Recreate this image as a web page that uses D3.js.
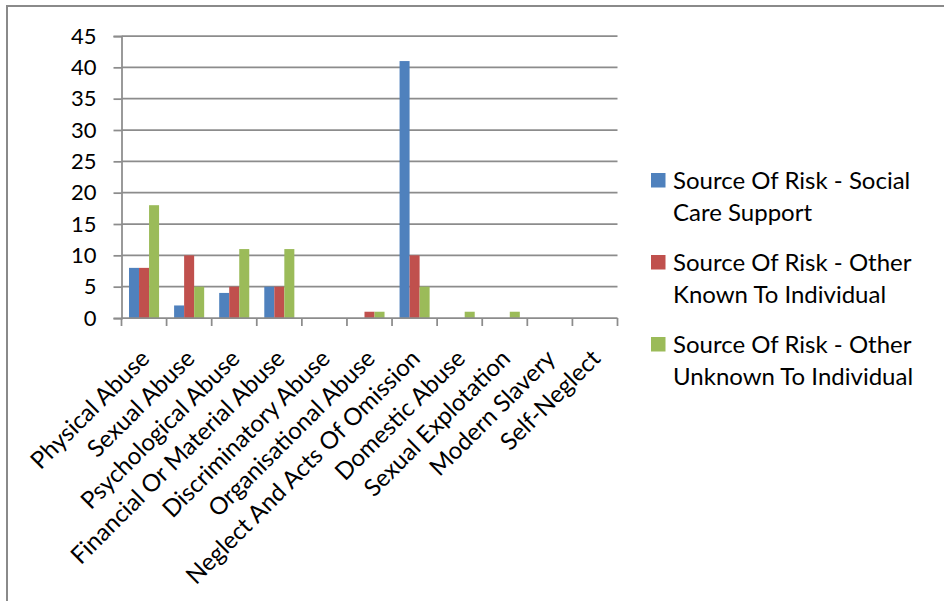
<!DOCTYPE html>
<html>
<head>
<meta charset="utf-8">
<script src="https://cdn.jsdelivr.net/npm/d3@7"></script>
<style>
  html, body { margin: 0; padding: 0; background: #fff; }
  svg { display: block; }
  text { font-family: Lato, "Open Sans", sans-serif; fill: #000; }
</style>
</head>
<body>
<svg id="chart" width="944" height="601"></svg>
<script>
// Abuse categories on the x axis
const categories = [
  "Physical Abuse", "Sexual Abuse", "Psychological Abuse",
  "Financial Or Material Abuse", "Discriminatory Abuse",
  "Organisational Abuse", "Neglect And Acts Of Omission",
  "Domestic Abuse", "Sexual Explotation", "Modern Slavery", "Self-Neglect"
];

// Series names (legend, split over two lines) and colours
const seriesNames = [
  ["Source Of Risk - Social", "Care Support"],
  ["Source Of Risk - Other", "Known To Individual"],
  ["Source Of Risk - Other", "Unknown To Individual"]
];
const seriesColors = ["#4F81BD", "#C0504D", "#9BBB59"];

// Counts per category, one array per series
const socialCare   = [8, 2, 4, 5, 0, 0, 41, 0, 0, 0, 0];
const otherKnown   = [8, 10, 5, 5, 0, 1, 10, 0, 0, 0, 0];
const otherUnknown = [18, 5, 11, 11, 0, 1, 5, 1, 1, 0, 0];
const seriesValues = [socialCare, otherKnown, otherUnknown];

const yTicks = [0, 5, 10, 15, 20, 25, 30, 35, 40, 45];

const svg = d3.select("#chart");

// Outer chart frame
svg.append("rect")
  .attr("x", 7).attr("y", 6)
  .attr("width", 960).attr("height", 620)
  .attr("fill", "none")
  .attr("stroke", "#8a8a8a")
  .attr("stroke-width", 2);

const plot = { left: 121.5, right: 617.5, top: 36, bottom: 318 };

const x = d3.scaleBand()
  .domain(categories)
  .range([plot.left, plot.right])
  .paddingInner(0).paddingOuter(0);

const y = d3.scaleLinear()
  .domain([0, 45])
  .range([plot.bottom, plot.top]);

// Gap between clusters is 150% of a bar width
const barW = x.bandwidth() / 4.5;
const inner = d3.scaleBand()
  .domain(d3.range(seriesValues.length))
  .range([0.75 * barW, 3.75 * barW]);

// Horizontal gridlines
svg.append("g")
  .selectAll("line")
  .data(yTicks.filter(t => t > 0))
  .join("line")
  .attr("x1", plot.left).attr("x2", plot.right)
  .attr("y1", d => y(d)).attr("y2", d => y(d))
  .attr("stroke", "#8c8c8c")
  .attr("stroke-width", 1.75);

// Bars
seriesValues.forEach((vals, si) => {
  svg.append("g")
    .selectAll("rect")
    .data(vals.map((v, i) => ({ v, c: categories[i] })).filter(d => d.v > 0))
    .join("rect")
    .attr("x", d => x(d.c) + inner(si))
    .attr("width", inner.bandwidth())
    .attr("y", d => y(d.v))
    .attr("height", d => y(0) - y(d.v))
    .attr("fill", seriesColors[si]);
});

// Y axis
const yAxis = svg.append("g")
  .attr("transform", `translate(${plot.left},0)`)
  .call(d3.axisLeft(y).tickValues(yTicks).tickSize(8).tickPadding(17));
yAxis.selectAll("line, path").attr("stroke", "#8c8c8c").attr("stroke-width", 1.75);
yAxis.selectAll("text").attr("font-size", 22).attr("font-family", "Lato, sans-serif").attr("fill", "#000");

// X axis: baseline plus tick marks at band edges
const xg = svg.append("g");
xg.append("line")
  .attr("x1", plot.left).attr("x2", plot.right)
  .attr("y1", plot.bottom).attr("y2", plot.bottom)
  .attr("stroke", "#8c8c8c").attr("stroke-width", 1.75);
const edges = categories.map(c => x(c)).concat([plot.right]);
xg.selectAll("line.tick")
  .data(edges)
  .join("line")
  .attr("class", "tick")
  .attr("x1", d => d).attr("x2", d => d)
  .attr("y1", plot.bottom).attr("y2", plot.bottom + 8)
  .attr("stroke", "#8c8c8c").attr("stroke-width", 1.75);

// Rotated category labels
xg.selectAll("text")
  .data(categories)
  .join("text")
  .attr("transform", d => `translate(${x(d) + x.bandwidth() / 2 + 7},${plot.bottom + 42}) rotate(-45)`)
  .attr("text-anchor", "end")
  .attr("font-size", 24)
  .text(d => d);

// Legend
const legend = svg.append("g");
seriesNames.forEach((lines, i) => {
  const top = 180 + i * 82;
  legend.append("rect")
    .attr("x", 651).attr("y", top - 7)
    .attr("width", 14.5).attr("height", 14.5)
    .attr("fill", seriesColors[i]);
  lines.forEach((ln, j) => {
    legend.append("text")
      .attr("x", 673)
      .attr("y", top + 9 + j * 32)
      .attr("font-size", 24)
      .text(ln);
  });
});
</script>
</body>
</html>
